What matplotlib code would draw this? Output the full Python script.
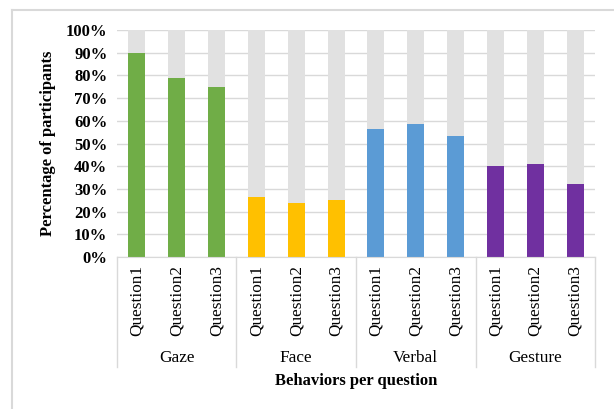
#!/usr/bin/env python3

import matplotlib.pyplot as plt
from matplotlib.lines import Line2D
from matplotlib.ticker import FuncFormatter
import numpy as np

plt.rcParams.update(
    {
        "font.family": "serif",
        "font.serif": ["Liberation Serif", "DejaVu Serif"],
    }
)

groups = ["Gaze", "Face", "Verbal", "Gesture"]
questions = ["Question1", "Question2", "Question3"]
gaze = [0.90, 0.79, 0.75]
face = [0.265, 0.24, 0.25]
verbal = [0.565, 0.585, 0.535]
gesture = [0.40, 0.41, 0.32]
group_colors = ["#70AD47", "#FFC000", "#5B9BD5", "#7030A0"]
rest_color = "#E1E1E1"
grid_color = "#D9D9D9"

values = np.array(gaze + face + verbal + gesture)
colors = [c for c in group_colors for _ in questions]
x = np.arange(len(values))

fig = plt.figure(figsize=(6.14, 4.09), dpi=100, facecolor="white")
ax = fig.add_axes([117 / 614, 1 - 257 / 409, (595 - 117) / 614, (257 - 30) / 409])

ax.bar(x, values, width=0.43, color=colors, zorder=3)
ax.bar(x, 1 - values, bottom=values, width=0.43, color=rest_color, zorder=3)

ax.set_xlim(-0.5, len(values) - 0.5)
ax.set_ylim(0, 1)
ax.set_yticks(np.arange(0, 1.01, 0.1))
ax.yaxis.set_major_formatter(FuncFormatter(lambda v, _: f"{v:.0%}"))
for lab in ax.get_yticklabels():
    lab.set_fontweight("bold")
    lab.set_fontsize(12)
ax.tick_params(axis="y", length=0, pad=7)
ax.tick_params(axis="x", length=0, labelbottom=False)
ax.grid(axis="y", color=grid_color, linewidth=1, zorder=0)
for side in ["top", "right", "left"]:
    ax.spines[side].set_visible(False)
ax.spines["bottom"].set_color(grid_color)
ax.spines["bottom"].set_zorder(4)

trans = ax.get_xaxis_transform()
axh = (257 - 30)
for i in x:
    ax.text(i, -8 / axh, questions[i % 3], rotation=90, ha="center", va="top",
            fontsize=12.4, transform=trans)
for g, name in enumerate(groups):
    ax.text(g * 3 + 1, -101 / axh, name, ha="center", va="center",
            fontsize=12.4, transform=trans)
for b in range(len(groups) + 1):
    ax.add_line(Line2D([b * 3 - 0.5, b * 3 - 0.5], [0, -110 / axh],
                       color=grid_color, linewidth=1, transform=trans, clip_on=False))

ax.text(0.5, -124 / axh, "Behaviors per question", ha="center", va="center",
        fontsize=12, fontweight="bold", transform=ax.transAxes)
ax.set_ylabel("Percentage of participants", fontsize=12, fontweight="bold", labelpad=7)

# outer chart frame (left and top edges visible)
fig.add_artist(Line2D([12 / 614, 1], [1 - 10 / 409, 1 - 10 / 409],
                      color=grid_color, linewidth=1.5, transform=fig.transFigure))
fig.add_artist(Line2D([12 / 614, 12 / 614], [0, 1 - 10 / 409],
                      color=grid_color, linewidth=1.5, transform=fig.transFigure))

fig.savefig("out.png", dpi=100, facecolor="white")
